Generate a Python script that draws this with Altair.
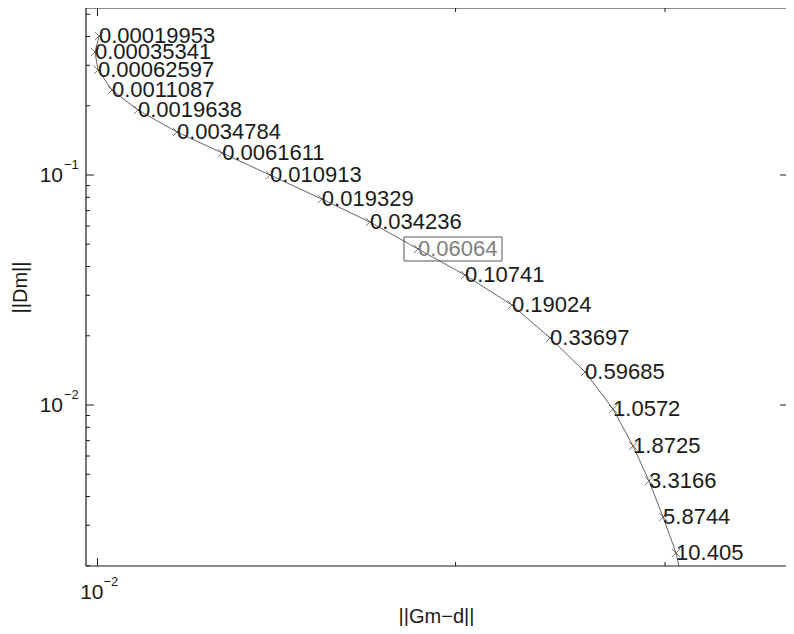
import altair as alt
import pandas as pd

# ---- data ----
alpha_labels = ["0.00019953", "0.00035341", "0.00062597", "0.0011087", "0.0019638",
                "0.0034784", "0.0061611", "0.010913", "0.019329", "0.034236",
                "0.06064", "0.10741", "0.19024", "0.33697", "0.59685",
                "1.0572", "1.8725", "3.3166", "5.8744", "10.405"]
misfit = [0.010029, 0.009952, 0.01001, 0.010285, 0.010815, 0.011664, 0.012729,
          0.013964, 0.015439, 0.016945, 0.018597, 0.020367, 0.022307, 0.024013,
          0.025699, 0.027129, 0.028200, 0.029087, 0.029886, 0.030648]
seminorm = [0.4019, 0.3425, 0.2861, 0.2342, 0.1917, 0.1538, 0.1247, 0.1000,
            0.07864, 0.06246, 0.04769, 0.03674, 0.02721, 0.01956, 0.01391,
            0.009607, 0.006633, 0.004672, 0.003258, 0.002272]
# curve continues past the last marker (clipped by the frame)
tail_misfit = [0.031063]
tail_seminorm = [0.001650]
selected_label = "0.06064"

y_major = [0.01, 0.1]
y_minor = [0.002, 0.003, 0.004, 0.005, 0.006, 0.007, 0.008, 0.009,
           0.02, 0.03, 0.04, 0.05, 0.06, 0.07, 0.08, 0.09,
           0.2, 0.3, 0.4, 0.5]
x_major = [0.01]
x_minor = [0.02, 0.03]
y_tick_base = ["10", "10"]
y_tick_exp = ["\u22122", "\u22121"]
x_tick_base = ["10"]
x_tick_exp = ["\u22122"]

x_title = "||Gm\u2212d||"
y_title = "||Dm||"

# ---- layout ----
W, H = 700, 558
FONT = "Liberation Sans"
AX = "#1a1a1a"
xdomain = [0.009780, 0.037915]
ydomain = [0.0019953, 0.53232]
xs = alt.Scale(type="log", domain=xdomain, nice=False)
ys = alt.Scale(type="log", domain=ydomain, nice=False)
xaxis = alt.Axis(title=x_title, labels=False, ticks=False, domain=False, grid=False,
                 titleFont=FONT, titleFontSize=20, titleFontWeight="normal",
                 titleColor=AX, titlePadding=40)
yaxis = alt.Axis(title=y_title, labels=False, ticks=False, domain=False, grid=False,
                 titleFont=FONT, titleFontSize=20, titleFontWeight="normal",
                 titleColor=AX, titlePadding=56)


def X(f):
    return alt.X(f, scale=xs, axis=xaxis)


def Y(f):
    return alt.Y(f, scale=ys, axis=yaxis)


pts = pd.DataFrame({"x": misfit, "y": seminorm, "label": alpha_labels,
                    "i": list(range(len(misfit)))})
curve = pd.DataFrame({"x": misfit + tail_misfit, "y": seminorm + tail_seminorm,
                      "i": list(range(len(misfit) + len(tail_misfit)))})

line = alt.Chart(curve).mark_line(color="#666666", strokeWidth=1, clip=True).encode(
    x=X("x:Q"), y=Y("y:Q"), order="i:Q")

cross = "M-1,-1L1,1M-1,1L1,-1"
markers = alt.Chart(pts).mark_point(shape=cross, size=70, filled=False,
                                     color="#444444", strokeWidth=1).encode(
    x=X("x:Q"), y=Y("y:Q"))

labels = alt.Chart(pts).mark_text(align="left", baseline="middle", fontSize=22,
                                   font=FONT, dx=0).encode(
    x=X("x:Q"), y=Y("y:Q"), text="label:N",
    color=alt.condition(alt.datum.label == selected_label,
                        alt.value("#808080"), alt.value("#1a1a1a")),
)

box = alt.Chart(pts).transform_filter(alt.datum.label == selected_label).mark_rect(
    fill=None, stroke="#555555", strokeWidth=1,
    xOffset=-14, x2Offset=84, yOffset=-12, y2Offset=12).encode(
    x=X("x:Q"), x2="x:Q", y=Y("y:Q"), y2="y:Q")

one = pd.DataFrame({"a": [0]})
frame_l = alt.Chart(one).mark_rule(color=AX, strokeWidth=1.2).encode(
    x=alt.value(0), y=alt.value(0), y2=alt.value(H))
frame_t = alt.Chart(one).mark_rule(color=AX, strokeWidth=1.2).encode(
    x=alt.value(0), x2=alt.value(W), y=alt.value(0))
frame_b = alt.Chart(one).mark_rule(color=AX, strokeWidth=1.2).encode(
    x=alt.value(0), x2=alt.value(W), y=alt.value(H))


def yticks(vals, x0, x1):
    return alt.Chart(pd.DataFrame({"v": vals})).mark_rule(color=AX, strokeWidth=1).encode(
        y=Y("v:Q"), x=alt.value(x0), x2=alt.value(x1))


def xticks(vals, y0, y1):
    return alt.Chart(pd.DataFrame({"v": vals})).mark_rule(color=AX, strokeWidth=1).encode(
        x=X("v:Q"), y=alt.value(y0), y2=alt.value(y1))


ticks = [
    yticks(y_major, 0, 8), yticks(y_minor, 0, 4), yticks(y_major, W - 6, W),
    xticks(x_major, H, H - 8), xticks(x_minor, H, H - 4),
    xticks(x_major, 0, 8), xticks(x_minor, 0, 4),
]

ydf = pd.DataFrame({"v": y_major, "b": y_tick_base, "e": y_tick_exp})
y_lab_base = alt.Chart(ydf).mark_text(align="right", baseline="middle", fontSize=21,
                                       font=FONT, color=AX, dy=1).encode(
    y=Y("v:Q"), x=alt.value(-23), text="b:N")
y_lab_exp = alt.Chart(ydf).mark_text(align="left", baseline="middle", fontSize=13,
                                      font=FONT, color=AX, dy=-10).encode(
    y=Y("v:Q"), x=alt.value(-22), text="e:N")

xdf = pd.DataFrame({"v": x_major, "b": x_tick_base, "e": x_tick_exp})
x_lab_base = alt.Chart(xdf).mark_text(align="right", baseline="middle", fontSize=21,
                                       font=FONT, color=AX, dx=6).encode(
    x=X("v:Q"), y=alt.value(H + 26.5), text="b:N")
x_lab_exp = alt.Chart(xdf).mark_text(align="left", baseline="middle", fontSize=13,
                                      font=FONT, color=AX, dx=6).encode(
    x=X("v:Q"), y=alt.value(H + 16), text="e:N")

chart = alt.layer(
    line, markers, labels, box, frame_l, frame_t, frame_b, *ticks,
    y_lab_base, y_lab_exp, x_lab_base, x_lab_exp,
).properties(
    width=W, height=H,
    autosize=alt.AutoSizeParams(type="none"),
    padding={"left": 78, "top": 0, "right": 0, "bottom": 60},
    background="white",
).configure_view(stroke=None)

chart.save("out.html", embed_options={"renderer": "svg", "actions": False})
